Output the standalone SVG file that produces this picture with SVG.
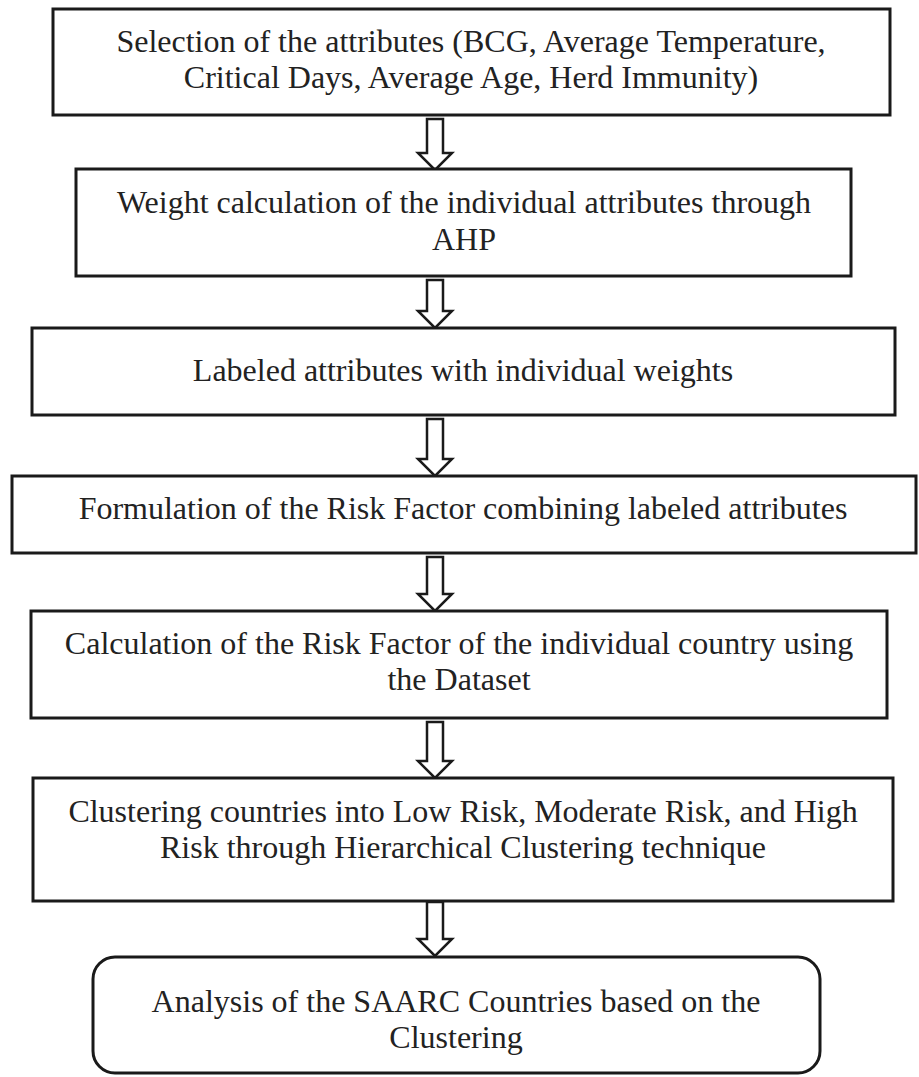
<svg xmlns="http://www.w3.org/2000/svg" width="919" height="1077" viewBox="0 0 919 1077">
<style>
.box{fill:#ffffff;stroke:#1a1a1a;stroke-width:3}
.arr{fill:#ffffff;stroke:#1a1a1a;stroke-width:2.5;stroke-linejoin:miter}
text{font-family:"Liberation Serif","Times New Roman",serif;font-size:32px;fill:#222222;text-anchor:middle}
</style>
<rect width="919" height="1077" fill="#ffffff"/>
<g id="connectors">
<polygon class="arr" points="427,119 443,119 443,153 452,153 435,170 418,153 427,153"/>
<polygon class="arr" points="427,280 443,280 443,311 452,311 435,328 418,311 427,311"/>
<polygon class="arr" points="427,419 443,419 443,459 452,459 435,476 418,459 427,459"/>
<polygon class="arr" points="427,557 443,557 443,594 452,594 435,611 418,594 427,594"/>
<polygon class="arr" points="427,722 443,722 443,761 452,761 435,778 418,761 427,761"/>
<polygon class="arr" points="427,902 443,902 443,939 452,939 435,956 418,939 427,939"/>
</g>
<g id="node1">
<rect class="box" x="53" y="9" width="837" height="106"/>
<text x="471" y="52">Selection of the attributes (BCG, Average Temperature,</text>
<text x="471" y="88">Critical Days, Average Age, Herd Immunity)</text>
</g>
<g id="node2">
<rect class="box" x="76" y="169" width="775" height="107"/>
<text x="464" y="213">Weight calculation of the individual attributes through</text>
<text x="464" y="250">AHP</text>
</g>
<g id="node3">
<rect class="box" x="32" y="328" width="863" height="87"/>
<text x="463" y="381">Labeled attributes with individual weights</text>
</g>
<g id="node4">
<rect class="box" x="12" y="476" width="904" height="77"/>
<text x="463" y="519">Formulation of the Risk Factor combining labeled attributes</text>
</g>
<g id="node5">
<rect class="box" x="31" y="611" width="856" height="107"/>
<text x="459" y="654">Calculation of the Risk Factor of the individual country using</text>
<text x="459" y="690">the Dataset</text>
</g>
<g id="node6">
<rect class="box" x="33" y="778" width="860" height="123"/>
<text x="463" y="822">Clustering countries into Low Risk, Moderate Risk, and High</text>
<text x="463" y="858">Risk through Hierarchical Clustering technique</text>
</g>
<g id="node7">
<rect class="box" x="93" y="957" width="727" height="116" rx="22" ry="22"/>
<text x="456" y="1012">Analysis of the SAARC Countries based on the</text>
<text x="456" y="1048">Clustering</text>
</g>
</svg>
